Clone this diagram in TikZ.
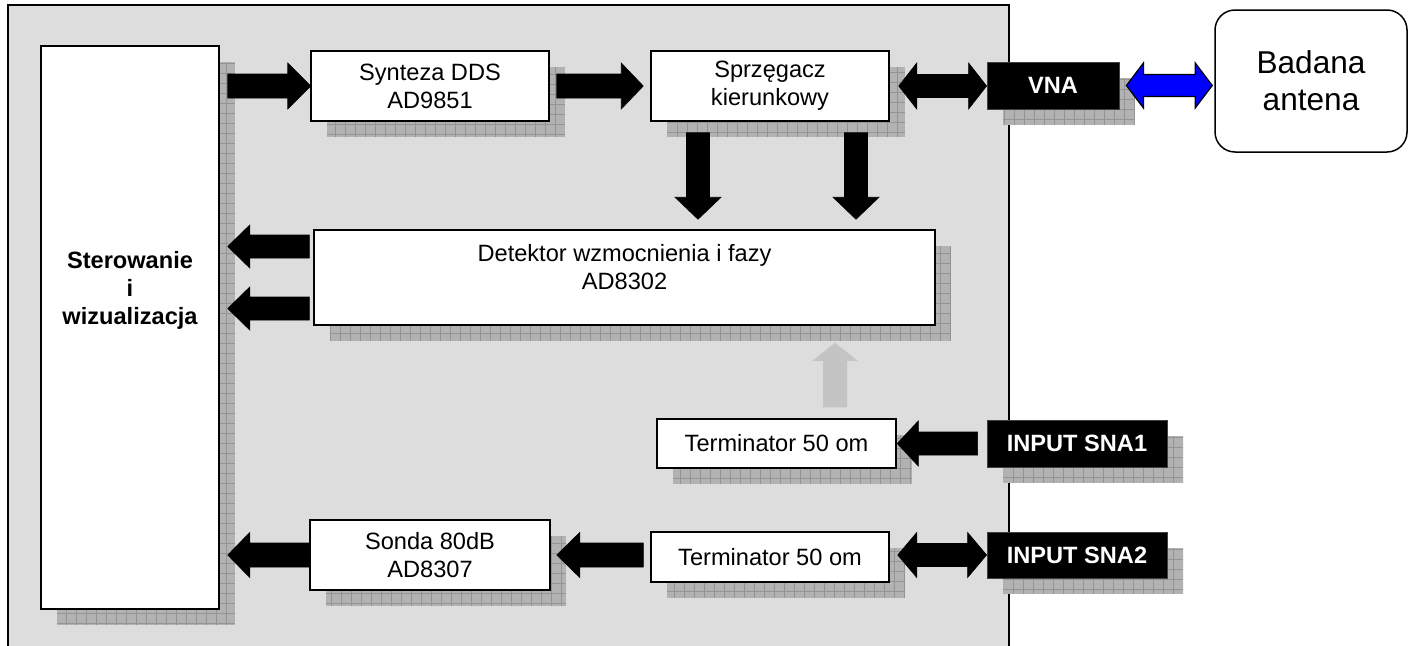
\documentclass[tikz,border=0pt]{standalone}
\usepackage{fontspec}
\setmainfont{Liberation Sans}
\usetikzlibrary{shadows,calc}
\definecolor{panelc}{RGB}{221,221,221}
\definecolor{shdc}{RGB}{178,178,178}
\definecolor{gridc}{RGB}{148,148,148}
\definecolor{garr}{RGB}{196,196,196}
\definecolor{bluec}{RGB}{0,0,255}
\begin{document}
\begin{tikzpicture}[x=1pt,y=-1pt,
  txt/.style={font=\fontsize{23.6}{28}\selectfont},
  shd/.style={drop shadow={shadow xshift=16pt,shadow yshift=-16pt,opacity=1,fill=shdc,
     path picture={\draw[gridc,line width=0.5pt] (path picture bounding box.south west) grid[step=10pt] (path picture bounding box.north east);}}},
  box/.style={draw=black,line width=1.5pt,fill=white,inner sep=0pt,align=center,txt,shd},
  blk/.style={draw=black!75,line width=0.8pt,fill=black,text=white,inner sep=0pt,
     font=\fontsize{23.6}{28}\selectfont\bfseries,shd},
  % horizontal block arrow: shaft half width, head half width, head length
  harrow/.style n args={3}{to path={let \p1=(\tikztostart), \p2=(\tikztotarget), \n1={sign(\x2-\x1)} in
     (\x1,{\y1+#1}) -- ({\x2-\n1*#3},{\y1+#1}) -- ({\x2-\n1*#3},{\y1+#2}) -- (\x2,\y1)
     -- ({\x2-\n1*#3},{\y1-#2}) -- ({\x2-\n1*#3},{\y1-#1}) -- (\x1,{\y1-#1}) -- cycle}},
  % horizontal double block arrow
  dharrow/.style n args={3}{to path={let \p1=(\tikztostart), \p2=(\tikztotarget), \n1={sign(\x2-\x1)} in
     (\x1,\y1) -- ({\x1+\n1*#3},{\y1+#2}) -- ({\x1+\n1*#3},{\y1+#1}) -- ({\x2-\n1*#3},{\y1+#1})
     -- ({\x2-\n1*#3},{\y1+#2}) -- (\x2,\y1) -- ({\x2-\n1*#3},{\y1-#2}) -- ({\x2-\n1*#3},{\y1-#1})
     -- ({\x1+\n1*#3},{\y1-#1}) -- ({\x1+\n1*#3},{\y1-#2}) -- cycle}},
  % vertical block arrow
  varrow/.style n args={3}{to path={let \p1=(\tikztostart), \p2=(\tikztotarget), \n1={sign(\y2-\y1)} in
     ({\x1+#1},\y1) -- ({\x1+#1},{\y2-\n1*#3}) -- ({\x1+#2},{\y2-\n1*#3}) -- (\x1,\y2)
     -- ({\x1-#2},{\y2-\n1*#3}) -- ({\x1-#1},{\y2-\n1*#3}) -- ({\x1-#1},\y1) -- cycle}},
  fatc/.style={fill=black,draw=black,line width=0.6pt,line join=miter}
]
\useasboundingbox (0,0) rectangle (1415,645);
\clip (0,0) rectangle (1415,645);

% panel
\draw[fill=panelc,line width=1.2pt] (8,5) rectangle (1009,670);

% blocks
\node[box,minimum width=178pt,minimum height=563pt,
  label={[font=\fontsize{23.6}{28}\selectfont\bfseries,align=center,yshift=37pt]center:Sterowanie\\i\\wizualizacja}]
  (ster) at (130,327.5) {};
\node[box,minimum width=238pt,minimum height=70pt] (syn) at (430,86) {Synteza DDS\\AD9851};
\node[box,minimum width=238pt,minimum height=70pt] (sprz) at (770,86) {Sprzęgacz\\kierunkowy};
\node[blk,minimum width=132pt,minimum height=47pt] (vna) at (1053,85.5) {VNA};
\node[draw=black,line width=1.5pt,fill=white,rounded corners=20pt,inner sep=0pt,align=center,
  minimum width=192pt,minimum height=142pt,font=\fontsize{31.6}{37}\selectfont] (ant) at (1311,81) {Badana\\antena};
\node[box,minimum width=621pt,minimum height=95pt,
  label={[txt,align=center,yshift=10pt]center:Detektor wzmocnienia i fazy\\AD8302}] (det) at (624.5,277.5) {};
\node[box,minimum width=239pt,minimum height=49pt] (t1) at (776.5,443.5) {Terminator 50 om};
\node[blk,minimum width=180pt,minimum height=47pt] (sna1) at (1077,443.5) {INPUT SNA1};
\node[box,minimum width=238pt,minimum height=50pt] (t2) at (770,557) {Terminator 50 om};
\node[blk,minimum width=180pt,minimum height=46pt] (sna2) at (1077,555) {INPUT SNA2};
\node[box,minimum width=240pt,minimum height=70pt] (sonda) at (430,555) {Sonda 80dB\\AD8307};

% helper coordinates
\coordinate (sterR) at ([xshift=8pt]ster.east);
\coordinate (dA) at ([xshift=-72pt,yshift=-11pt]sprz.south);
\coordinate (dB) at ([xshift=86pt,yshift=-11pt]sprz.south);
\coordinate (l1) at ([xshift=-4pt,yshift=31pt]det.west);
\coordinate (l2) at ([xshift=-4pt,yshift=-31pt]det.west);
\coordinate (g0) at ([xshift=58.5pt,yshift=11pt]t1.north);
\coordinate (g1) at ([yshift=-17pt]g0 |- det.south);
\coordinate (dAe) at ([yshift=10pt]dA |- det.north);
\coordinate (dBe) at ([yshift=10pt]dB |- det.north);

% connectors
\path[fatc] (sterR |- syn.west) to[harrow={12pt}{23pt}{23pt}] ([xshift=0.5pt]syn.west);
\path[fatc] ([xshift=7pt]syn.east) to[harrow={12pt}{23pt}{22pt}] ([xshift=-7pt]sprz.west);
\path[fatc] ([xshift=9pt]sprz.east) to[dharrow={11.5pt}{23pt}{18pt}] (vna.west);
\path[fill=bluec,draw=black,line width=1.2pt,line join=miter] ([xshift=7pt]vna.east) to[dharrow={11pt}{22.5pt}{17pt}] ([xshift=-2pt]ant.west);
\path[fatc] (dA) to[varrow={11.5pt}{23pt}{22pt}] (dAe);
\path[fatc] (dB) to[varrow={11.5pt}{23pt}{22pt}] (dBe);
\path[fatc] (l1) to[harrow={11.5pt}{21.5pt}{22pt}] (l1 -| sterR);
\path[fatc] (l2) to[harrow={11.5pt}{21.5pt}{22pt}] (l2 -| sterR);
\path[fill=garr] (g0) to[varrow={12pt}{22.5pt}{18pt}] (g1);
\path[fatc] ([xshift=-9pt]sna1.west) to[harrow={11.5pt}{22.5pt}{21pt}] ([xshift=0.5pt]t1.east);
\path[fatc] ([xshift=8pt]t2.east |- sna2.west) to[dharrow={11.5pt}{22.5pt}{19pt}] (sna2.west);
\path[fatc] ([xshift=-7pt]t2.west |- sonda.east) to[harrow={12pt}{22.5pt}{23pt}] ([xshift=6pt]sonda.east);
\path[fatc] (sonda.west) to[harrow={12pt}{22.5pt}{22pt}] (sterR |- sonda.west);
\end{tikzpicture}
\end{document}
